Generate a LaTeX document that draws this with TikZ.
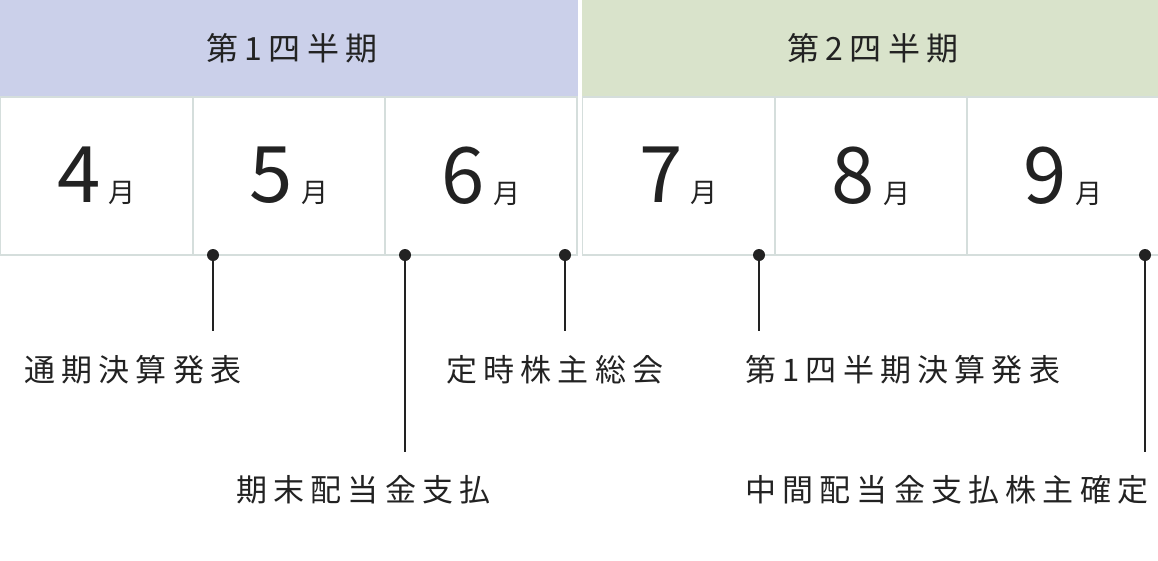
\documentclass[tikz,border=0pt]{standalone}
\usepackage{fontspec}
\setmainfont{Noto Sans CJK JP}
\newfontfamily\spaced{Noto Sans CJK JP}[LetterSpace=20]
\usetikzlibrary{positioning}
\definecolor{qone}{HTML}{CBD0EA}
\definecolor{qtwo}{HTML}{D9E3CB}
\definecolor{cellline}{HTML}{D5DEDC}
\definecolor{ink}{HTML}{222222}
\tikzset{
  cell/.style = {draw = cellline, line width = 1.5pt, minimum width = 192pt, minimum height = 158pt, inner sep = 0pt},
  event/.style = {font = \spaced\fontsize{31}{33}\selectfont, text = ink, anchor = west, inner sep = 0pt},
  head/.style = {font = \spaced\fontsize{32}{34}\selectfont},
  dot/.style = {circle, fill = ink, inner sep = 0pt, minimum size = 12pt}
}
\newcommand{\monthtext}[1]{{\fontsize{78}{78}\selectfont #1}\hspace{8pt}{\fontsize{27}{27}\selectfont 月}}
\begin{document}
\begin{tikzpicture}[x = 1pt, y = -1pt, text = ink]
        \useasboundingbox (0,0) rectangle (1158,560);
        
        % header
        \fill [qone] (0,0) rectangle (578,97);
        \fill [qtwo] (582,0) rectangle (1158,97);
        \node [head] (h1) at (292,48) {第1四半期};
        \node [head] (h2) at (873,48) {第2四半期};
        
        % months
        \node [cell] (m4) at (96.5,176) {\monthtext{4}};
        \node [cell] (m5) at (289,176) {\monthtext{5}};
        \node [cell] (m6) at (481,176) {\monthtext{6}};
        \node [cell] (m7) at (678.5,176) {\monthtext{7}};
        \node [cell] (m8) at (871,176) {\monthtext{8}};
        \node [cell] (m9) at (1063,176) {\monthtext{9}};
        
        % dots
        \node [dot] (d1) at (213,255) {};
        \node [dot] (d2) at (405,255) {};
        \node [dot] (d3) at (565,255) {};
        \node [dot] (d4) at (759,255) {};
        \node [dot] (d5) at (1145,255) {};
        
        \coordinate (e1) at (213,331);
        \coordinate (e2) at (405,452);
        \coordinate (e3) at (565,331);
        \coordinate (e4) at (759,331);
        \coordinate (e5) at (1145,452);
        
        \draw [ink, line width = 1.5pt] (d1.center) -- (e1);
        \draw [ink, line width = 1.5pt] (d2.center) -- (e2);
        \draw [ink, line width = 1.5pt] (d3.center) -- (e3);
        \draw [ink, line width = 1.5pt] (d4.center) -- (e4);
        \draw [ink, line width = 1.5pt] (d5.center) -- (e5);
        
        % events
        \node [event] (t1) at (24,370) {通期決算発表};
        \node [event] (t2) at (236,490) {期末配当金支払};
        \node [event] (t3) at (446,370) {定時株主総会};
        \node [event] (t4) at (745,370) {第1四半期決算発表};
        \node [event] (t5) at (745,490) {中間配当金支払株主確定};
    \end{tikzpicture}
\end{document}
